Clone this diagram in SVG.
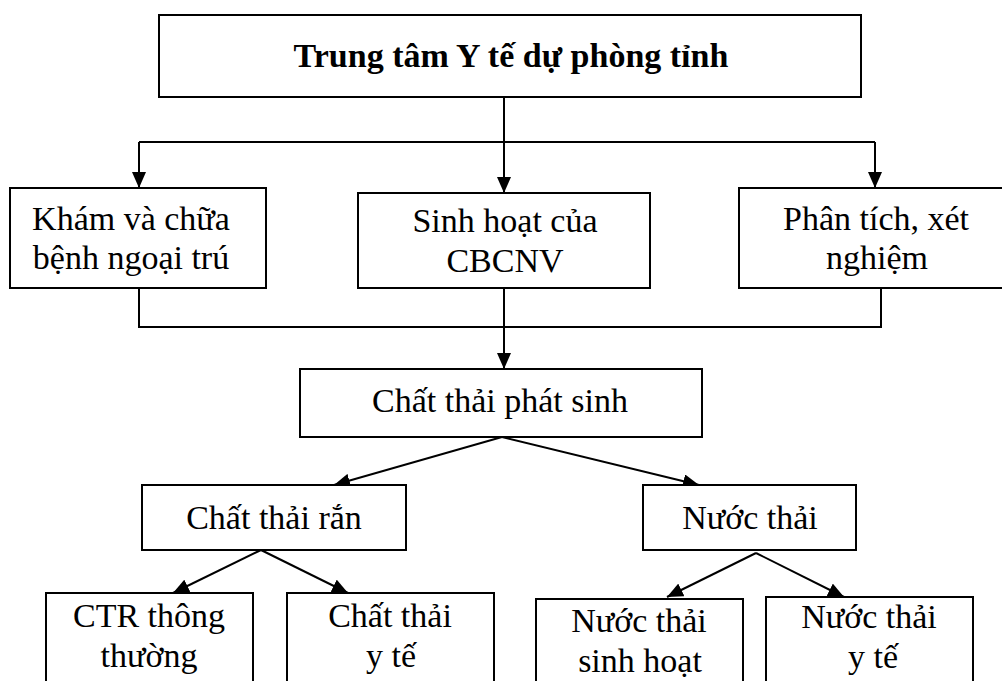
<svg xmlns="http://www.w3.org/2000/svg" width="1002" height="681" viewBox="0 0 1002 681">
  <style>
    .box { fill: #ffffff; stroke: #000000; stroke-width: 2; }
    .lbl { font-family: "Liberation Serif", "Times New Roman", serif; font-size: 34px; fill: #000000; text-anchor: middle; }
    .bold { font-weight: bold; }
    .wire { fill: none; stroke: #000000; stroke-width: 2; }
    .arrow { fill: none; stroke: #000000; stroke-width: 2; marker-end: url(#head); }
  </style>
  <defs>
    <marker id="head" viewBox="0 0 16 14" refX="16" refY="7" markerWidth="16" markerHeight="14" markerUnits="userSpaceOnUse" orient="auto">
      <path d="M0,0 L16,7 L0,14 Z" fill="#000000"/>
    </marker>
  </defs>

  <rect width="1002" height="681" fill="#ffffff"/>

  <g id="connectors">
    <!-- top box to the three sources -->
    <line class="wire" x1="504" y1="97" x2="504" y2="142"/>
    <line class="wire" x1="139" y1="142" x2="875" y2="142"/>
    <line class="arrow" x1="139" y1="142" x2="139" y2="188"/>
    <line class="arrow" x1="504" y1="142" x2="504" y2="193"/>
    <line class="arrow" x1="875" y1="142" x2="875" y2="188"/>
    <!-- sources merge into waste node -->
    <polyline class="wire" points="139,288 139,327 881,327 881,288"/>
    <line class="arrow" x1="504" y1="288" x2="504" y2="369"/>
    <!-- waste split -->
    <line class="arrow" x1="502" y1="437" x2="334" y2="485"/>
    <line class="arrow" x1="502" y1="437" x2="699" y2="485"/>
    <!-- solid waste split -->
    <line class="arrow" x1="261" y1="550" x2="173" y2="593"/>
    <line class="arrow" x1="261" y1="550" x2="348" y2="593"/>
    <!-- wastewater split -->
    <line class="arrow" x1="756" y1="553" x2="667" y2="597"/>
    <line class="arrow" x1="756" y1="553" x2="844" y2="597"/>
  </g>

  <g id="center">
    <rect class="box" x="159" y="15" width="702" height="82"/>
    <text class="lbl bold" x="511" y="67">Trung tâm Y tế dự phòng tỉnh</text>
  </g>

  <g id="outpatient">
    <rect class="box" x="10" y="188" width="256" height="100"/>
    <text class="lbl" x="131" y="230">Khám và chữa</text>
    <text class="lbl" x="131" y="269">bệnh ngoại trú</text>
  </g>

  <g id="staff">
    <rect class="box" x="358" y="193" width="292" height="95"/>
    <text class="lbl" x="505" y="232">Sinh hoạt của</text>
    <text class="lbl" x="505" y="272">CBCNV</text>
  </g>

  <g id="lab">
    <rect class="box" x="739" y="188" width="270" height="100"/>
    <text class="lbl" x="876" y="230">Phân tích, xét</text>
    <text class="lbl" x="877" y="269">nghiệm</text>
  </g>

  <g id="waste">
    <rect class="box" x="300" y="369" width="402" height="68"/>
    <text class="lbl" x="500" y="412">Chất thải phát sinh</text>
  </g>

  <g id="solid">
    <rect class="box" x="142" y="485" width="264" height="65"/>
    <text class="lbl" x="274" y="529">Chất thải rắn</text>
  </g>

  <g id="water">
    <rect class="box" x="643" y="485" width="213" height="65"/>
    <text class="lbl" x="750" y="529">Nước thải</text>
  </g>

  <g id="solid-common">
    <rect class="box" x="46" y="593" width="207" height="100"/>
    <text class="lbl" x="149" y="627">CTR thông</text>
    <text class="lbl" x="149" y="667">thường</text>
  </g>

  <g id="solid-medical">
    <rect class="box" x="287" y="593" width="207" height="100"/>
    <text class="lbl" x="390" y="627">Chất thải</text>
    <text class="lbl" x="391" y="667">y tế</text>
  </g>

  <g id="water-domestic">
    <rect class="box" x="536" y="599" width="207" height="100"/>
    <text class="lbl" x="639" y="632">Nước thải</text>
    <text class="lbl" x="640" y="672">sinh hoạt</text>
  </g>

  <g id="water-medical">
    <rect class="box" x="766" y="597" width="207" height="100"/>
    <text class="lbl" x="869" y="628">Nước thải</text>
    <text class="lbl" x="873" y="668">y tế</text>
  </g>
</svg>
